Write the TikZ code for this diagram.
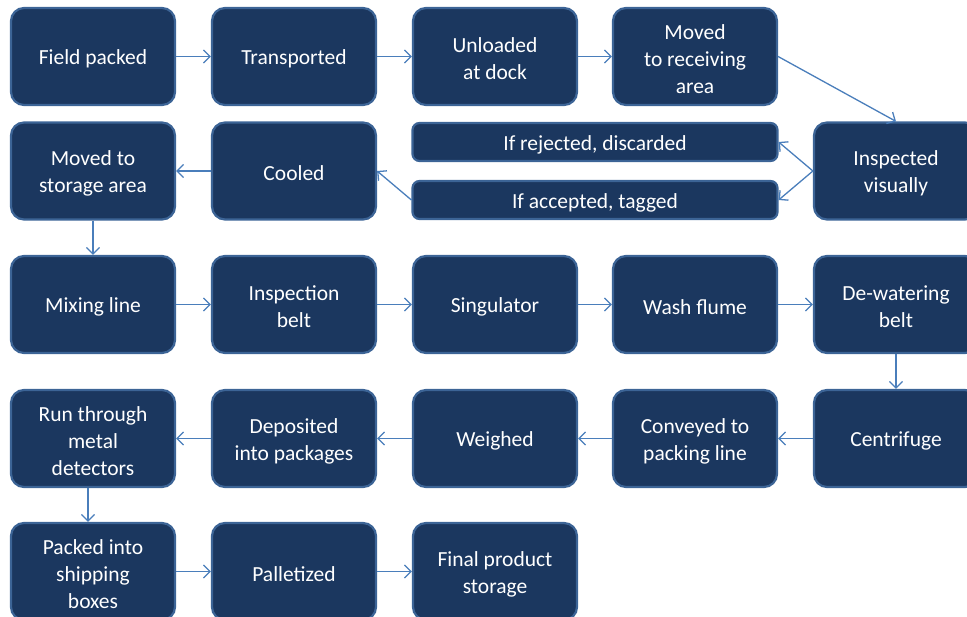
\documentclass[tikz,border=0pt]{standalone}
\usepackage{fontspec}
\setmainfont{Carlito}
\usetikzlibrary{arrows.meta}
\definecolor{boxfill}{HTML}{1B375F}
\definecolor{boxline}{HTML}{3C6496}
\definecolor{arrowc}{HTML}{4A7EBB}
\tikzset{
  stepbox/.style={draw=boxline, line width=2.2pt, fill=boxfill, rounded corners=13pt,
    minimum width=164pt, minimum height=97pt, inner sep=0pt},
  smallbox/.style={stepbox, minimum width=365pt, minimum height=38pt, rounded corners=7pt},
  boxtext/.style={text=white, align=center, font=\fontsize{21.5}{27}\selectfont, inner sep=0pt},
  conn/.style={draw=arrowc, line width=1.3pt, -{Straight Barb[length=6.5pt,width=13pt,line width=1.3pt]}}
}
\newcommand{\flowbox}[4][stepbox]{%
  \node[#1] (#2) at #3 {};
  \node[boxtext] (#2-t) at ([yshift=-2.5pt]#2.center) {#4};}
\begin{document}
\begin{tikzpicture}[x=1pt,y=-1pt]
\useasboundingbox (0,0) rectangle (967,617);
% row 1
\flowbox{fp}{(93,56.5)}{Field packed}
\flowbox{tr}{(294,56.5)}{Transported}
\flowbox{ud}{(495,56.5)}{Unloaded\\at dock}
\flowbox{mr}{(695,56.5)}{Moved\\to receiving\\area}
% row 2
\flowbox{ms}{(93,171)}{Moved to\\storage area}
\flowbox{co}{(294,171)}{Cooled}
\flowbox[smallbox]{rej}{(595,142)}{If rejected, discarded}
\flowbox[smallbox]{acc}{(595,200)}{If accepted, tagged}
\flowbox{iv}{(896,171)}{Inspected\\visually}
% row 3
\flowbox{ml}{(93,304.5)}{Mixing line}
\flowbox{ib}{(294,304.5)}{Inspection\\belt}
\flowbox{si}{(495,304.5)}{Singulator}
\flowbox{wf}{(695,304.5)}{Wash flume}
\flowbox{dw}{(896,304.5)}{De-watering\\belt}
% row 4
\flowbox{rt}{(93,438.5)}{Run through\\metal\\detectors}
\flowbox{dp}{(294,438.5)}{Deposited\\into packages}
\flowbox{we}{(495,438.5)}{Weighed}
\flowbox{cp}{(695,438.5)}{Conveyed to\\packing line}
\flowbox{ce}{(896,438.5)}{Centrifuge}
% row 5
\flowbox{pb}{(93,571.5)}{Packed into\\shipping\\boxes}
\flowbox{pa}{(294,571.5)}{Palletized}
\flowbox{fs}{(495,571.5)}{Final product\\storage}
% connectors
\draw[conn] (fp) -- (tr);
\draw[conn] (tr) -- (ud);
\draw[conn] (ud) -- (mr);
\draw[conn] (mr.east) -- (iv.north);
\draw[conn] (iv.west) -- (rej.east);
\draw[conn] (iv.west) -- (acc.east);
\draw[conn] (acc.west) -- (co.east);
\draw[conn] (co) -- (ms);
\draw[conn] (ms) -- (ml);
\draw[conn] (ml) -- (ib);
\draw[conn] (ib) -- (si);
\draw[conn] (si) -- (wf);
\draw[conn] (wf) -- (dw);
\draw[conn] (dw) -- (ce);
\draw[conn] (ce) -- (cp);
\draw[conn] (cp) -- (we);
\draw[conn] (we) -- (dp);
\draw[conn] (dp) -- (rt);
\draw[conn] ([xshift=-5pt]rt.south) -- ([xshift=-5pt]pb.north);
\draw[conn] (pb) -- (pa);
\draw[conn] (pa) -- (fs);
\end{tikzpicture}
\end{document}
